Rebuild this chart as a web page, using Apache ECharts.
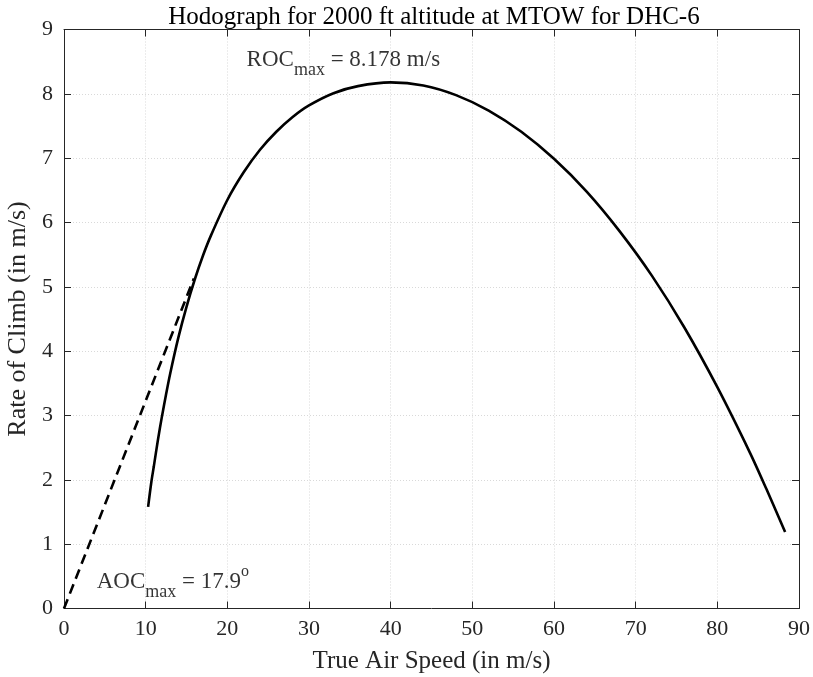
<!DOCTYPE html>
<html>
<head>
<meta charset="utf-8">
<script src="https://cdn.jsdelivr.net/npm/echarts@6/dist/echarts.min.js"></script>
<style>html,body{margin:0;padding:0;background:#fff}#c{width:813px;height:677px}</style>
</head>
<body>
<div id="c"></div>
<script>
// Hodograph curve: true air speed (m/s) vs rate of climb (m/s)
const tasValues = [10.3, 10.7, 11.0, 11.5, 12.0, 12.5, 13.0, 14.0, 15.0, 16.0, 17.0, 18.0, 20.0, 22.0, 24.0, 26.0, 28.0, 30.0, 33.0, 36.0, 40.0, 44.0, 48.0, 52.0, 56.0, 60.0, 64.0, 68.0, 72.0, 76.0, 80.0, 84.0, 86.0, 88.3];
const rocValues = [1.58, 1.97, 2.21, 2.62, 2.99, 3.33, 3.65, 4.21, 4.69, 5.11, 5.48, 5.80, 6.35, 6.78, 7.13, 7.41, 7.64, 7.82, 8.01, 8.12, 8.178, 8.13, 7.98, 7.74, 7.41, 6.99, 6.48, 5.87, 5.17, 4.36, 3.44, 2.42, 1.86, 1.19];
// Tangent line from origin (max angle of climb)
const tangentX = [0, 15.9];
const tangentY = [0, 5.13];
const xTicks = [0, 10, 20, 30, 40, 50, 60, 70, 80, 90];
const yTicks = [0, 1, 2, 3, 4, 5, 6, 7, 8, 9];
const rocMaxText = '8.178 m/s';
const aocMaxText = '17.9';

const serif = '"Liberation Serif","DejaVu Serif",serif';
const axisColor = '#262626';
const gridStyle = {show: true, lineStyle: {color: '#d9d9d9', type: [1, 2], width: 1}};

const curve = tasValues.map((v, i) => [v, rocValues[i]]);
const tangent = tangentX.map((v, i) => [v, tangentY[i]]);

const chart = echarts.init(document.getElementById('c'));
const baseX = {
  type: 'value', min: xTicks[0], max: xTicks[xTicks.length - 1], interval: 10,
  axisLine: {show: true, onZero: false, lineStyle: {color: axisColor, width: 1}},
  axisTick: {show: true, inside: true, length: 7, lineStyle: {color: axisColor}},
  splitLine: {show: false}
};
const baseY = {
  type: 'value', min: yTicks[0], max: yTicks[yTicks.length - 1], interval: 1,
  axisLine: {show: true, onZero: false, lineStyle: {color: axisColor, width: 1}},
  axisTick: {show: true, inside: true, length: 7, lineStyle: {color: axisColor}},
  splitLine: {show: false}
};
const richBase = {
  a: {fontFamily: serif, fontSize: 23, color: '#000'},
  s: {fontFamily: serif, fontSize: 18, color: '#000', padding: [22, 0, 0, 0]},
  p: {fontFamily: serif, fontSize: 16, color: '#000', padding: [0, 0, 20, 0]}
};
chart.setOption({
  backgroundColor: '#fff',
  animation: false,
  title: {
    text: 'Hodograph for 2000 ft altitude at MTOW for DHC-6',
    left: 429, textAlign: 'center', top: 0,
    textStyle: {fontFamily: serif, fontSize: 25, fontWeight: 'normal', color: '#000'}
  },
  grid: {left: 64, right: 14, top: 29.5, bottom: 68.5, containLabel: false, outerBoundsMode: 'none'},
  xAxis: [
    Object.assign({}, baseX, {
      position: 'bottom',
      name: 'True Air Speed (in m/s)', nameLocation: 'middle', nameGap: 40,
      nameTextStyle: {fontFamily: serif, fontSize: 25, color: axisColor},
      axisLabel: {fontFamily: serif, fontSize: 22, color: axisColor, margin: 10},
      splitLine: gridStyle
    }),
    Object.assign({}, baseX, {position: 'top', axisLabel: {show: false}})
  ],
  yAxis: [
    Object.assign({}, baseY, {
      position: 'left',
      name: 'Rate of Climb (in m/s)', nameLocation: 'middle', nameGap: 29,
      nameTextStyle: {fontFamily: serif, fontSize: 26, color: axisColor},
      axisLabel: {fontFamily: serif, fontSize: 22, color: axisColor, margin: 11},
      splitLine: gridStyle
    }),
    Object.assign({}, baseY, {position: 'right', axisLabel: {show: false}})
  ],
  series: [
    {
      type: 'line', data: tangent, showSymbol: false, symbol: 'none',
      lineStyle: {color: '#000', width: 2.6, type: [10, 6]},
      z: 3
    },
    {
      type: 'line', data: curve, smooth: 0.3, showSymbol: false, symbol: 'none',
      lineStyle: {color: '#000', width: 2.6},
      z: 4
    },
    {
      type: 'scatter', symbolSize: 0, silent: true, z: 5,
      data: [
        {value: [22.36, 8.53], label: {formatter: '{a|ROC}{s|max}{a| = ' + rocMaxText + '}'}},
        {value: [4.0, 0.42], label: {formatter: '{a|AOC}{s|max}{a| = ' + aocMaxText + '}{p|o}'}}
      ],
      label: {show: true, position: 'right', distance: 0, color: '#000', rich: richBase}
    }
  ]
});
</script>
</body>
</html>
